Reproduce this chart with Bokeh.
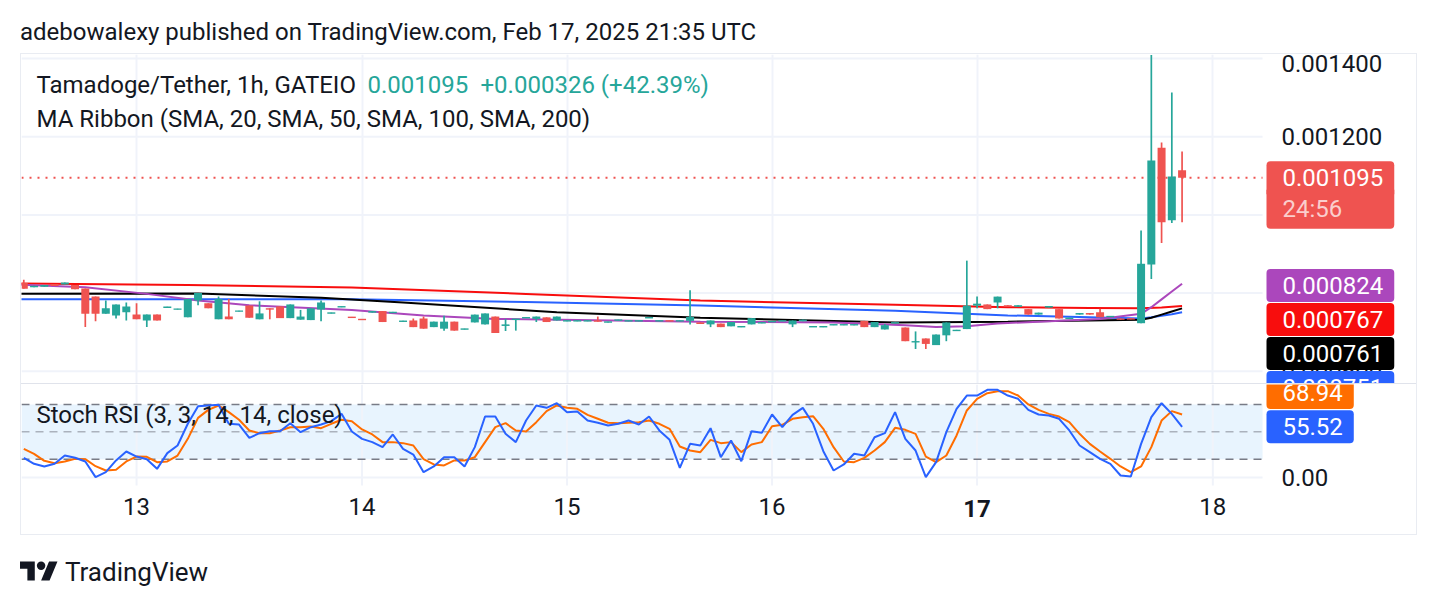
import numpy as np
from bokeh.plotting import figure
from bokeh.models import (ColumnDataSource, FixedTicker, PrintfTickFormatter,
                          BoxAnnotation, Label, Div, Grid)
from bokeh.layouts import column
from bokeh.embed import file_html
from bokeh.resources import INLINE

# ---------------- texts ----------------
PUBLISHED = "adebowalexy published on TradingView.com, Feb 17, 2025 21:35 UTC"
SYMBOL = "Tamadoge/Tether, 1h, GATEIO"
INDICATOR = "MA Ribbon (SMA, 20, SMA, 50, SMA, 100, SMA, 200)"
OSC = "Stoch RSI (3, 3, 14, 14, close)"
CHANGE_ABS = 0.000326
CHANGE_PCT = 42.39
COUNTDOWN = "24:56"

# ---------------- data (prices in micro-USDT) ----------------
UNIT = 1e-6
OPEN_U = [826, 815, 816, 823, 822, 821, 812, 791, 747, 743,
          751, 745, 730, 745, 763, 758, 738, 781, 774, 733,
          740, 753, 768, 733, 761, 766, 736, 732, 731, 758,
          748, 764, 739, 734, 750, 754, 749, 727, 730, 735,
          713, 709, 727, 707, 725, 720, 740, 716, 732, 736,
          734, 738, 730, 728, 728, 728, 730, 725, 730, 728,
          728, 736, 728, 730, 728, 729, 725, 720, 722, 715,
          713, 720, 723, 726, 728, 720, 728, 713, 713, 718,
          718, 718, 729, 713, 707, 723, 712, 674, 684, 667,
          692, 703, 708, 768, 771, 776, 769, 765, 759, 745,
          763, 759, 734, 745, 749, 751, 739, 735, 735, 723,
          873, 1172, 986, 1114]
CLOSE_U = [811, 819, 821, 818, 827, 810, 747, 747, 761, 771,
           766, 733, 745, 730, 765, 760, 785, 800, 761, 785,
           733, 755, 737, 748, 758, 736, 771, 740, 761, 776,
           750, 766, 737, 731, 754, 726, 752, 729, 713, 709,
           727, 727, 704, 709, 745, 748, 698, 720, 734, 738,
           740, 726, 740, 730, 730, 730, 727, 727, 732, 730,
           730, 738, 730, 728, 730, 739, 721, 730, 713, 726,
           715, 736, 725, 728, 730, 730, 732, 715, 715, 720,
           720, 720, 713, 726, 718, 725, 677, 677, 670, 694,
           725, 706, 768, 773, 759, 791, 765, 769, 745, 750,
           767, 735, 737, 749, 745, 738, 741, 732, 733, 875,
           1139, 981, 1098, 1095]
HIGH_U = [834, 819, 821, 823, 827, 821, 812, 791, 781, 771,
          776, 774, 745, 745, 765, 760, 785, 800, 774, 791,
          785, 755, 768, 779, 761, 766, 771, 757, 761, 781,
          750, 766, 739, 734, 754, 754, 752, 729, 735, 740,
          727, 742, 727, 709, 745, 748, 740, 734, 734, 738,
          740, 738, 740, 730, 730, 730, 740, 727, 732, 730,
          730, 738, 730, 730, 730, 807, 725, 730, 722, 726,
          715, 736, 725, 728, 730, 730, 732, 715, 715, 720,
          720, 720, 729, 726, 721, 725, 712, 702, 684, 694,
          725, 706, 883, 791, 771, 791, 769, 769, 759, 750,
          767, 759, 737, 749, 749, 760, 741, 735, 735, 960,
          1409, 1185, 1313, 1162]
LOW_U = [811, 815, 816, 818, 822, 810, 713, 728, 747, 735,
         730, 733, 713, 730, 763, 758, 738, 769, 761, 733,
         733, 753, 737, 733, 733, 736, 736, 732, 731, 728,
         748, 764, 737, 731, 750, 726, 749, 727, 713, 709,
         713, 704, 704, 707, 725, 720, 698, 703, 704, 736,
         726, 726, 730, 728, 728, 728, 727, 725, 730, 728,
         728, 736, 728, 728, 728, 720, 721, 713, 713, 715,
         713, 720, 723, 726, 728, 713, 728, 713, 713, 718,
         718, 718, 713, 713, 707, 723, 677, 657, 657, 667,
         677, 703, 708, 761, 759, 761, 765, 765, 745, 745,
         763, 735, 734, 745, 745, 738, 739, 732, 733, 723,
         836, 928, 979, 981]

# moving averages, read at a few bar positions
MA_PURPLE_BARS = [0, 7, 13, 18, 23, 33, 40, 47, 67, 80, 87, 90, 93, 96, 100, 106, 110, 111, 112, 113, 114]
MA_PURPLE_U = [822, 815, 798, 781, 769, 757, 743, 734, 727, 725, 718, 713, 715, 722, 727, 734, 747, 764, 784, 804, 824]
MA_RED_BARS = [0, 17, 33, 50, 67, 86, 97, 105, 110, 112, 114]
MA_RED_U = [825, 821, 814, 798, 781, 770, 764, 762, 761, 763, 767]
MA_BLACK_BARS = [0, 18, 30, 38, 53, 67, 86, 97, 105, 110, 111, 112, 113, 114]
MA_BLACK_U = [798, 799, 788, 776, 751, 737, 725, 727, 730, 732, 737, 745, 753, 761]
MA_BLUE_BARS = [0, 33, 50, 67, 86, 97, 105, 110, 111, 112, 113, 114]
MA_BLUE_U = [784, 784, 777, 768, 755, 743, 738, 735, 738, 742, 746, 751]

STOCH_K = [21.5, 14.9, 12.0, 14.9, 24.0, 21.5, 17.5, 0.3, 5.8, 18.6,
           28.4, 22.9, 20.0, 9.4, 26.6, 35.0, 58.8, 78.1, 78.9, 79.6,
           58.8, 58.0, 43.4, 48.5, 50.7, 50.7, 59.5, 49.6, 55.1, 58.0,
           61.7, 69.7, 50.4, 42.3, 38.7, 33.2, 47.1, 31.3, 25.1, 5.8,
           12.0, 22.2, 22.2, 12.0, 33.2, 66.8, 66.8, 47.8, 38.7, 62.4,
           78.9, 76.3, 81.4, 71.6, 72.3, 62.4, 59.9, 56.9, 58.8, 62.4,
           58.0, 66.8, 51.5, 41.2, 10.5, 36.8, 35.0, 54.0, 22.2, 40.5,
           17.8, 50.7, 48.9, 69.0, 55.1, 68.6, 76.3, 58.8, 28.8, 7.6,
           14.2, 25.9, 24.0, 44.1, 48.5, 71.6, 42.3, 29.5, 0.3, 16.7,
           49.6, 75.2, 89.8, 89.8, 96.1, 96.1, 89.8, 86.2, 74.1, 69.0,
           67.9, 64.3, 51.5, 35.0, 27.7, 20.4, 14.9, 2.1, 1.0, 36.8,
           66.1, 81.4, 69.7, 55.52]
STOCH_D = [31.3, 25.9, 18.2, 15.6, 17.5, 20.4, 20.0, 12.3, 7.6, 8.3,
           17.5, 22.9, 22.6, 16.7, 17.5, 24.0, 42.3, 65.3, 74.1, 78.9,
           71.6, 63.2, 51.5, 48.5, 48.5, 51.5, 55.1, 55.1, 55.8, 54.0,
           58.8, 63.2, 61.7, 52.6, 47.1, 38.7, 38.7, 37.6, 35.0, 20.0,
           14.2, 13.1, 18.6, 18.6, 22.2, 38.7, 55.1, 59.5, 51.5, 50.4,
           60.6, 72.7, 78.9, 76.3, 75.2, 68.6, 64.3, 59.9, 59.5, 59.9,
           60.6, 62.4, 58.8, 53.3, 33.9, 29.5, 27.7, 41.2, 37.6, 38.7,
           27.7, 36.1, 38.7, 56.2, 57.7, 64.3, 66.1, 67.2, 53.3, 33.2,
           17.5, 16.7, 21.5, 29.5, 38.7, 54.4, 52.2, 47.8, 22.9, 16.7,
           24.0, 46.0, 73.4, 86.2, 92.4, 94.6, 94.6, 89.8, 80.0, 74.1,
           69.7, 66.8, 60.6, 47.8, 36.8, 28.4, 20.4, 12.0, 5.8, 12.0,
           33.2, 62.4, 72.7, 68.94]

DAY_TICK_BARS = [12, 34, 54, 74, 94, 117]
DAY_TICK_LABELS = ["13", "14", "15", "16", "17", "18"]
BOLD_DAY = "17"
PRICE_TICKS = [0.0006, 0.0008, 0.0010, 0.0012, 0.0014]
RSI_TICKS = [0]
RSI_LEVELS = [80, 50, 20]

# ---------------- styles / geometry ----------------
TEAL = "#26A69A"
RED = "#EF5350"
TXT = "#131722"
GRID = "#F0F3FA"
FONT = "Roboto"
FS = "24px"
C_PURPLE, C_RED, C_BLACK, C_BLUE = "#AB47BC", "#F80D0D", "#000000", "#2962FF"
C_K, C_D = "#2962FF", "#FF6D00"

X_RANGE = (0.7756, 136.87)      # whole pane incl. price-scale column
X_CHART_END = 121.85            # where the price scale column starts
Y_MAIN = (0.0005688, 0.0014102)
Y_RSI = (-62.6, 101.9)          # pane incl. time-axis strip
RSI_PANE_BOTTOM = -8.9
TAG_X = 1245
TAG_PAD = dict(left=16, right=11, top=8, bottom=8)

bars = np.arange(1, len(OPEN_U) + 1)
o = np.array(OPEN_U) * UNIT
c = np.array(CLOSE_U) * UNIT
h = np.array(HIGH_U) * UNIT
l = np.array(LOW_U) * UNIT
up = c >= o
top = np.maximum(o, c)
bot = np.minimum(o, c)
min_h = 3.6e-6
small = (top - bot) < min_h
mid = (top + bot) / 2
top = np.where(small, mid + min_h / 2, top)
bot = np.where(small, mid - min_h / 2, bot)
src = ColumnDataSource(dict(x=bars, top=top, bottom=bot, high=h, low=l,
                            color=np.where(up, TEAL, RED)))


def style_axis(ax, ticks, standoff):
    ax.ticker = FixedTicker(ticks=ticks)
    ax.axis_line_color = None
    ax.major_tick_line_color = None
    ax.minor_tick_line_color = None
    ax.major_label_text_font = FONT
    ax.major_label_text_font_size = FS
    ax.major_label_text_color = TXT
    ax.major_label_standoff = standoff


def tag(fig, text, y, y_units, bg, color="white", alpha=1.0, pad=None, radius=4):
    fig.add_layout(Label(x=TAG_X, x_units="screen", y=y, y_units=y_units, text=text,
                         text_font=FONT, text_font_size=FS, text_color=color, text_alpha=alpha,
                         text_align="left", text_baseline="middle",
                         background_fill_color=bg, background_fill_alpha=1.0,
                         padding=pad or TAG_PAD, border_radius=radius))


def text_label(fig, x, y, text, color=TXT, style="normal", align="left"):
    fig.add_layout(Label(x=x, y=y, x_units="screen", y_units="screen", text=text,
                         text_font=FONT, text_font_size=FS, text_color=color,
                         text_font_style=style, text_align=align, text_baseline="alphabetic"))


# ---------------- main pane ----------------
main = figure(width=1395, height=329, x_range=X_RANGE, y_range=Y_MAIN,
              output_backend="svg", toolbar_location=None,
              x_axis_location=None, y_axis_location="right", min_border=0,
              outline_line_color=None, background_fill_color="white", border_fill_color="white")
main.grid.visible = False
main.add_layout(Grid(dimension=0, ticker=FixedTicker(ticks=DAY_TICK_BARS),
                     grid_line_color=GRID, grid_line_width=2))
main.segment(x0=X_RANGE[0], x1=X_CHART_END, y0=PRICE_TICKS, y1=PRICE_TICKS,
             line_color=GRID, line_width=2)
ya = main.yaxis[0]
style_axis(ya, PRICE_TICKS, 13)
ya.formatter = PrintfTickFormatter(format="%.6f")
ya.fixed_location = X_CHART_END

last_close = CLOSE_U[-1] * UNIT
main.segment(x0=X_RANGE[0], x1=X_CHART_END, y0=last_close, y1=last_close,
             line_color=RED, line_width=2, line_dash="2 6")

for bx, vals, col in [(MA_BLUE_BARS, MA_BLUE_U, C_BLUE), (MA_BLACK_BARS, MA_BLACK_U, C_BLACK),
                      (MA_RED_BARS, MA_RED_U, C_RED), (MA_PURPLE_BARS, MA_PURPLE_U, C_PURPLE)]:
    main.line(bx, np.array(vals) * UNIT, line_color=col, line_width=2)

main.segment(x0="x", y0="high", x1="x", y1="low", line_color="color", line_width=1.7, source=src)
main.vbar(x="x", width=0.78, top="top", bottom="bottom", fill_color="color", line_color=None, source=src)

text_label(main, 15, 299, SYMBOL)
text_label(main, 346, 299, f"{last_close:.6f}", color=TEAL)
text_label(main, 459, 299, f"+{CHANGE_ABS:.6f} (+{CHANGE_PCT:.2f}%)", color=TEAL)
text_label(main, 15, 265, INDICATOR)

tag(main, f"{last_close:.6f}", last_close, "data", RED,
    radius=dict(top_left=4, top_right=4, bottom_right=0, bottom_left=0))
tag(main, COUNTDOWN, 174.3, "screen", RED, alpha=0.72,
    pad=dict(left=16, right=52, top=5, bottom=6),
    radius=dict(top_left=0, top_right=0, bottom_right=4, bottom_left=4))
tag(main, f"{MA_PURPLE_U[-1] * UNIT:.6f}", 98, "screen", C_PURPLE)
tag(main, f"{MA_RED_U[-1] * UNIT:.6f}", 64, "screen", C_RED)
tag(main, f"{MA_BLACK_U[-1] * UNIT:.6f}", 30, "screen", C_BLACK)
tag(main, f"{MA_BLUE_U[-1] * UNIT:.6f}", -4, "screen", C_BLUE)

# ---------------- stoch rsi pane ----------------
rsi = figure(width=1395, height=150, x_range=main.x_range, y_range=Y_RSI,
             output_backend="svg", toolbar_location=None,
             x_axis_location="below", y_axis_location="right", min_border=0,
             outline_line_color=None, background_fill_color="white", border_fill_color="white")
rsi.grid.visible = False
rsi.segment(x0=DAY_TICK_BARS, x1=DAY_TICK_BARS, y0=RSI_PANE_BOTTOM, y1=Y_RSI[1],
            line_color=GRID, line_width=2)
rsi.segment(x0=X_RANGE[0], x1=X_CHART_END, y0=RSI_TICKS, y1=RSI_TICKS, line_color=GRID, line_width=2)

ry = rsi.yaxis[0]
style_axis(ry, RSI_TICKS, 13)
ry.formatter = PrintfTickFormatter(format="%.2f")
ry.fixed_location = X_CHART_END

xa = rsi.xaxis[0]
style_axis(xa, DAY_TICK_BARS, 6)
xa.major_label_overrides = {b: ("" if t == BOLD_DAY else t) for b, t in zip(DAY_TICK_BARS, DAY_TICK_LABELS)}
xa.fixed_location = RSI_PANE_BOTTOM
bold_bar = DAY_TICK_BARS[DAY_TICK_LABELS.index(BOLD_DAY)]
rsi.add_layout(Label(x=bold_bar, y=26.5, x_units="data", y_units="screen", text=BOLD_DAY,
                     text_font=FONT, text_font_size=FS, text_font_style="bold", text_color=TXT,
                     text_align="center", text_baseline="alphabetic"))

rsi.add_layout(BoxAnnotation(bottom=RSI_LEVELS[2], top=RSI_LEVELS[0], right=X_CHART_END,
                             fill_color="#2196F3", fill_alpha=0.1, line_color=None, level="underlay"))
for lvl, alpha in zip(RSI_LEVELS, [1.0, 0.55, 1.0]):
    rsi.segment(x0=X_RANGE[0], x1=X_CHART_END, y0=lvl, y1=lvl, line_color="#787B86",
                line_alpha=alpha, line_width=1.5, line_dash="8 6")

rsi.line(bars, STOCH_D, line_color=C_D, line_width=2)
rsi.line(bars, STOCH_K, line_color=C_K, line_width=2)

text_label(rsi, 15, 120, OSC)
tag(rsi, f"{STOCH_D[-1]:.2f}", 142, "screen", C_D)
tag(rsi, f"{STOCH_K[-1]:.2f}", STOCH_K[-1], "data", C_K)

# ---------------- page ----------------
header = Div(text=f'<div style="padding:10px 0 0 12px;font-family:Roboto;font-size:24px;'
                  f'line-height:28px;color:{TXT};white-space:nowrap;">{PUBLISHED}</div>',
             width=1420, height=45, margin=0)
divider = Div(text="", width=1395, height=1, margin=0, styles={"background-color": "#E0E3EB"})
body = column(main, divider, rsi, margin=(1, 0, 0, 13), styles={"outline": "1px solid #E9ECF2"})
logo_svg = ('<svg xmlns="http://www.w3.org/2000/svg" width="38" height="30" viewBox="0 0 36 28">'
            '<path fill="#131722" d="M14 22H7V11H0V4h14v18zM28 22h-8l7.5-18h8L28 22z"/>'
            '<circle fill="#131722" cx="20" cy="8" r="4"/></svg>')
footer = Div(text=f'<div style="display:flex;align-items:center;padding:23px 0 0 12px;">{logo_svg}'
                  f'<span style="margin-left:7px;font-family:Roboto;font-size:26px;line-height:30px;'
                  f'color:{TXT};">TradingView</span></div>',
             width=1420, height=62, margin=0)
page = column(header, body, footer, margin=(8, 0, 0, 8))

open("out.html", "w").write(file_html(page, INLINE))
